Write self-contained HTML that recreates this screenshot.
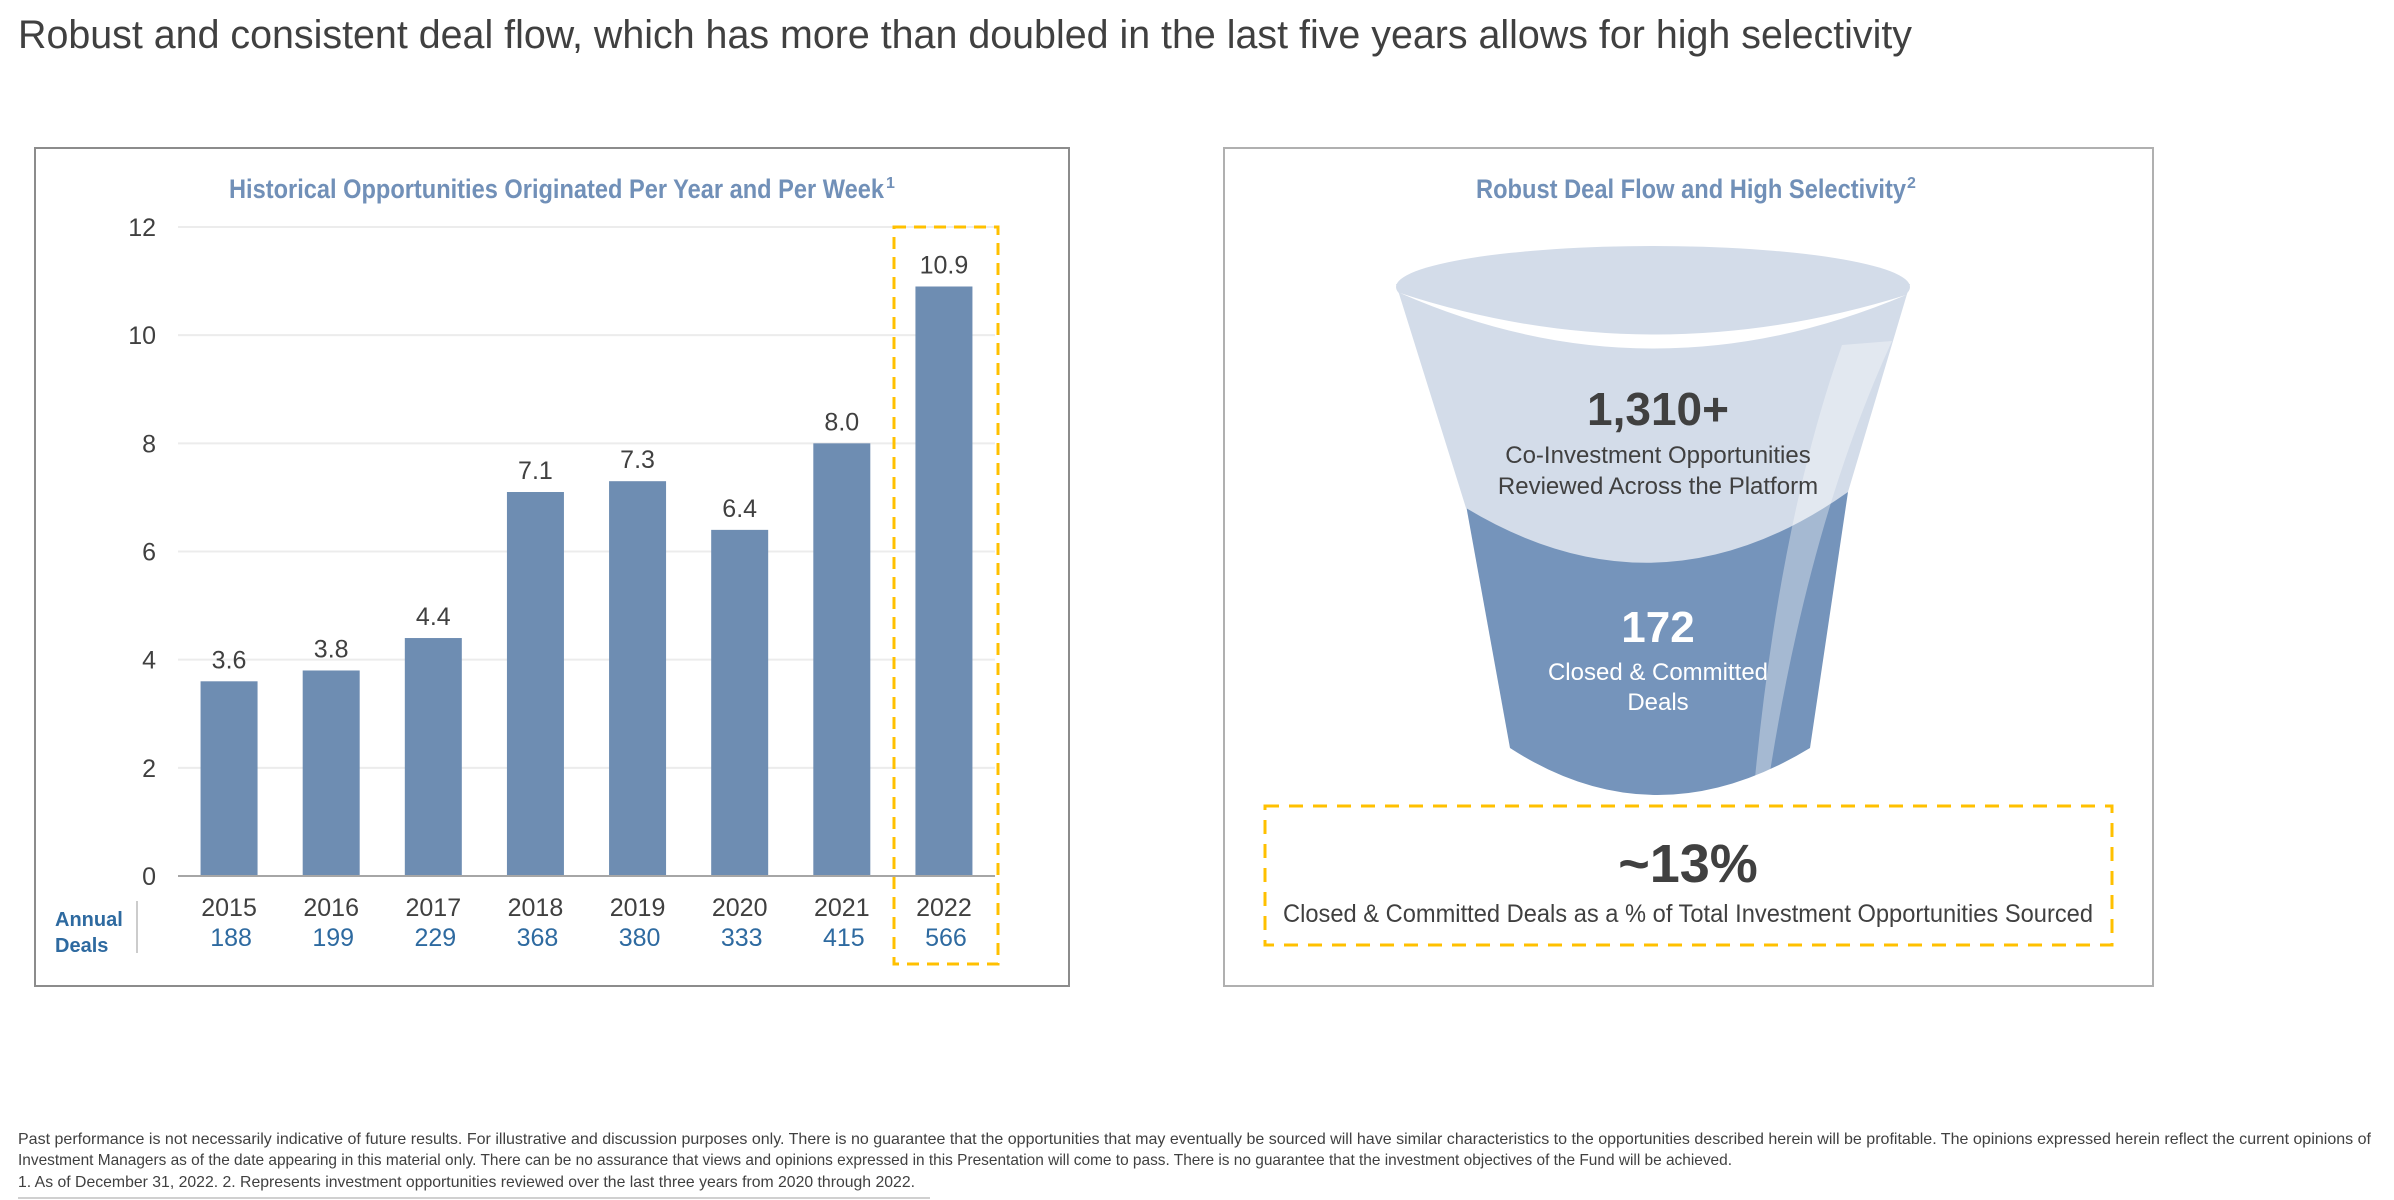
<!DOCTYPE html>
<html><head><meta charset="utf-8"><style>
html,body{margin:0;padding:0;background:#fff;}
svg{display:block;}
text{font-family:"Liberation Sans Narrow","Liberation Sans",sans-serif;}
</style></head><body>
<svg id="root" width="2394" height="1200" viewBox="0 0 2394 1200" xmlns="http://www.w3.org/2000/svg">
<text x="18" y="48" font-size="40" fill="#404040" textLength="1894" lengthAdjust="spacingAndGlyphs">Robust and consistent deal flow, which has more than doubled in the last five years allows for high selectivity</text>

<rect x="35" y="148" width="1034" height="838" fill="none" stroke="#8c8c8c" stroke-width="2"/>
<text x="229" y="198" font-size="27" font-weight="bold" fill="#7190b8" textLength="655" lengthAdjust="spacingAndGlyphs">Historical Opportunities Originated Per Year and Per Week</text>
<text x="886" y="188" font-size="16" font-weight="bold" fill="#7190b8">1</text>
<g id="chart"></g>
<text x="55" y="926" font-size="20" font-weight="bold" fill="#2e6aa0">Annual</text>
<text x="55" y="952" font-size="20" font-weight="bold" fill="#2e6aa0">Deals</text>
<line x1="137" y1="901" x2="137" y2="953" stroke="#cccccc" stroke-width="2"/>
<rect x="894" y="227" width="104" height="737" fill="none" stroke="#ffc000" stroke-width="3" stroke-dasharray="12,8"/>

<rect x="1224" y="148" width="929" height="838" fill="none" stroke="#b0b0b0" stroke-width="2"/>
<text x="1476" y="198" font-size="27" font-weight="bold" fill="#7190b8" textLength="430" lengthAdjust="spacingAndGlyphs">Robust Deal Flow and High Selectivity</text>
<text x="1907" y="188" font-size="16" font-weight="bold" fill="#7190b8">2</text>

<g>
<path d="M1466,505 L1510,748 Q1655,842 1810,748 L1848,492 Z" fill="#7594bb"/>
<path d="M1396,284 L1466,508 Q1660,625 1848,492 L1910,284 Z" fill="#d3dce9"/>
<ellipse cx="1653" cy="287" rx="257" ry="41" fill="#d3dce9"/>
<path d="M1400,293 Q1650,403 1906,295 Q1650,375 1400,293 Z" fill="#ffffff"/>
<path d="M1842,345 L1892,341 Q1810,520 1770,772 L1755,778 Q1780,520 1842,345 Z" fill="#ffffff" opacity="0.35"/>
<text x="1658" y="425" font-size="46" font-weight="bold" fill="#404040" text-anchor="middle">1,310+</text>
<text x="1658" y="463" font-size="24" fill="#404040" text-anchor="middle">Co-Investment Opportunities</text>
<text x="1658" y="494" font-size="24" fill="#404040" text-anchor="middle">Reviewed Across the Platform</text>
<text x="1658" y="642" font-size="44" font-weight="bold" fill="#ffffff" text-anchor="middle">172</text>
<text x="1658" y="680" font-size="24" fill="#ffffff" text-anchor="middle">Closed &amp; Committed</text>
<text x="1658" y="710" font-size="24" fill="#ffffff" text-anchor="middle">Deals</text>
</g>
<rect x="1265" y="806" width="847" height="139" fill="none" stroke="#ffc000" stroke-width="3" stroke-dasharray="14,10"/>
<text x="1688" y="882" font-size="54" font-weight="bold" fill="#404040" text-anchor="middle">~13%</text>
<text x="1688" y="922" font-size="25" fill="#404040" text-anchor="middle" textLength="810" lengthAdjust="spacingAndGlyphs">Closed &amp; Committed Deals as a % of Total Investment Opportunities Sourced</text>

<g font-size="16" fill="#404040">
<text x="18" y="1144" textLength="2353" lengthAdjust="spacingAndGlyphs">Past performance is not necessarily indicative of future results. For illustrative and discussion purposes only. There is no guarantee that the opportunities that may eventually be sourced will have similar characteristics to the opportunities described herein will be profitable. The opinions expressed herein reflect the current opinions of</text>
<text x="18" y="1165" textLength="1714" lengthAdjust="spacingAndGlyphs">Investment Managers as of the date appearing in this material only. There can be no assurance that views and opinions expressed in this Presentation will come to pass. There is no guarantee that the investment objectives of the Fund will be achieved.</text>
<text x="18" y="1187" textLength="897" lengthAdjust="spacingAndGlyphs">1. As of December 31, 2022. 2. Represents investment opportunities reviewed over the last three years from 2020 through 2022.</text>
</g>
<line x1="18" y1="1198" x2="930" y2="1198" stroke="#d0d0d0" stroke-width="2"/>
</svg>
<script>
const years = ["2015","2016","2017","2018","2019","2020","2021","2022"];
const perWeek = [3.6, 3.8, 4.4, 7.1, 7.3, 6.4, 8.0, 10.9];
const annualDeals = ["188","199","229","368","380","333","415","566"];
const yTicks = [0, 2, 4, 6, 8, 10, 12];

const NS = "http://www.w3.org/2000/svg";
const g = document.getElementById("chart");
const plotLeft = 178, plotRight = 995, y0 = 876, y12 = 227;
const yScale = v => y0 - (v / 12) * (y0 - y12);
const step = (plotRight - plotLeft) / years.length;
const xCenter = i => plotLeft + step * (i + 0.5);
const barW = 57;
function mk(tag, attrs) { const e = document.createElementNS(NS, tag); for (const k in attrs) e.setAttribute(k, attrs[k]); g.appendChild(e); return e; }

yTicks.forEach(t => {
  const y = yScale(t);
  if (t > 0) {
    const l = mk("line", {x1: plotLeft, x2: plotRight, y1: y, y2: y, stroke: "#ececec", "stroke-width": 2});
    
    
  }
  const tx = mk("text", {x: 156, y: y + 9, "font-size": 25, fill: "#404040", "text-anchor": "end"});
  tx.textContent = t;
  
  
});
years.forEach((yr, i) => {
  const cx = xCenter(i), top = yScale(perWeek[i]);
  const r = mk("rect", {x: cx - barW / 2, y: top, width: barW, height: y0 - top, fill: "#6e8db2"});
  
  
  const v = mk("text", {x: cx, y: top - 13, "font-size": 25, fill: "#404040", "text-anchor": "middle"});
  v.textContent = perWeek[i].toFixed(1);
  
  
  const yl = mk("text", {x: cx, y: 916, "font-size": 25, fill: "#404040", "text-anchor": "middle"});
  yl.textContent = yr;
  
  
  const d = mk("text", {x: cx + 2, y: 946, "font-size": 25, fill: "#2e6aa0", "text-anchor": "middle"});
  d.textContent = annualDeals[i];
  
  
});
const ax = mk("line", {x1: plotLeft, x2: plotRight, y1: y0, y2: y0, stroke: "#a6a6a6", "stroke-width": 2});


</script>
</body></html>
